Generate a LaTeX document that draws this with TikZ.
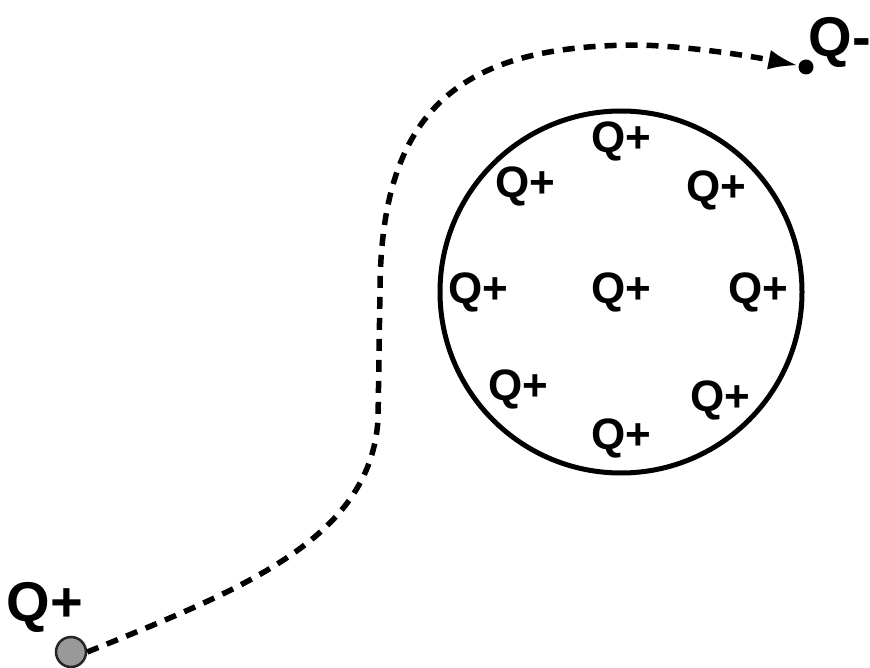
\documentclass[tikz,border=0pt]{standalone}
\usepackage{fontspec}
\setmainfont{Liberation Sans}
\usetikzlibrary{arrows.meta,positioning}

\begin{document}
\begin{tikzpicture}[x=1pt,y=-1pt,>=Latex,
  charge/.style={font=\fontsize{44}{46}\selectfont\bfseries,inner sep=0pt},
  bigcharge/.style={font=\fontsize{56}{58}\selectfont\bfseries,inner sep=0pt},
  path line/.style={line width=5.5pt,dash pattern=on 12pt off 9pt,black}]
\useasboundingbox (0,0) rectangle (870,668);
% sphere of positive charges
\node[draw,circle,line width=5pt,minimum size=362pt,inner sep=0pt] (sphere) at (621,292) {};
\node[charge] (top) at (621,141) {Q+};
\node[charge] (ul) at (525,186) {Q+};
\node[charge] (ur) at (716,190) {Q+};
\node[charge] (left) at (478,292) {Q+};
\node[charge] (mid) at (621,292) {Q+};
\node[charge] (right) at (758,292) {Q+};
\node[charge] (ll) at (518,389) {Q+};
\node[charge] (lr) at (720,400) {Q+};
\node[charge] (bot) at (621,438) {Q+};

% moving test charge and target
\node[draw=black!85,fill=black!40,circle,line width=2.5pt,minimum size=30pt,inner sep=0pt] (probe) at (71,652) {};
\node[bigcharge] (probelabel) at (45,607) {Q+};
\node[fill,circle,minimum size=15pt,inner sep=0pt] (target) at (806,67) {};
\node[bigcharge] (targetlabel) at (840,42) {Q-};

\draw[path line,->,>={Latex[length=30pt,width=20pt]}] (probe.east) .. controls (240,590) and (370,540) .. (378,420)
  -- (380,290) .. controls (381,100) and (470,45) .. (640,45)
  .. controls (700,47) and (760,58) .. (target);
\end{tikzpicture}
\end{document}
